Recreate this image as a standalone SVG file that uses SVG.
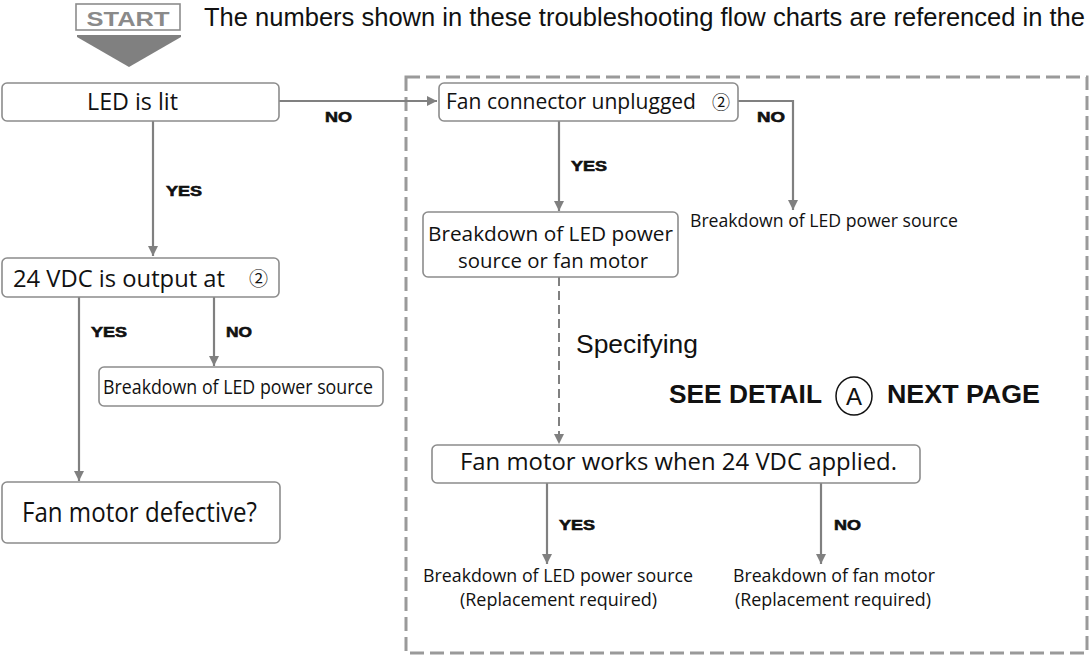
<svg xmlns="http://www.w3.org/2000/svg" width="1090" height="655" viewBox="0 0 1090 655">
<defs>
<marker id="ah" markerUnits="userSpaceOnUse" markerWidth="11" markerHeight="10" refX="10" refY="5" orient="auto">
<path d="M0,0 L10,5 L0,10 z" fill="#808080"/>
</marker>
<style>
.box{fill:#fff;stroke:#8c8c8c;stroke-width:1.6}
.con{fill:none;stroke:#808080;stroke-width:2.2}
.dash{fill:none;stroke:#808080;stroke-width:2;stroke-dasharray:9 5}
.t{font-family:"Open Sans","Noto Sans",sans-serif;fill:#111}
.h{font-family:"Liberation Sans",Arial,sans-serif;fill:#111}
.lbl{font-family:"Liberation Sans",Arial,sans-serif;font-weight:bold;font-size:15px;fill:#111;stroke:#111;stroke-width:0.6}
.c2{font-family:"Noto Sans CJK JP","DejaVu Sans",sans-serif;fill:#111}
</style>
</defs>
<rect width="1090" height="655" fill="#fff"/>

<g id="frame">
<rect x="406" y="77" width="681" height="576" fill="none" stroke="#9a9a9a" stroke-width="3" stroke-dasharray="14 6"/>
</g>

<g id="start">
<rect x="76" y="4" width="104" height="26" fill="#fff" stroke="#8c8c8c" stroke-width="1.6"/>
<text x="128" y="26" text-anchor="middle" font-family="Liberation Sans,Arial,sans-serif" font-weight="bold" font-size="20" fill="#8a8a8a" textLength="83" lengthAdjust="spacingAndGlyphs">START</text>
<polygon points="77,35 181,35 181,37 129,67 77,37" fill="#808080"/>
</g>

<g id="header">
<text class="h" x="204" y="26" font-size="25" textLength="881" lengthAdjust="spacingAndGlyphs">The numbers shown in these troubleshooting flow charts are referenced in the</text>
</g>

<g id="connectors">
<path class="con" d="M279,101 H437" marker-end="url(#ah)"/>
<path class="con" d="M153,121 V256" marker-end="url(#ah)"/>
<path class="con" d="M79,297 V481" marker-end="url(#ah)"/>
<path class="con" d="M214,297 V366" marker-end="url(#ah)"/>
<path class="con" d="M738,101 H793 V210" marker-end="url(#ah)"/>
<path class="con" d="M559,121 V211" marker-end="url(#ah)"/>
<path class="dash" d="M559,277 V444" marker-end="url(#ah)"/>
<path class="con" d="M547,483 V564" marker-end="url(#ah)"/>
<path class="con" d="M821,483 V564" marker-end="url(#ah)"/>
<text class="lbl" x="325" y="122" textLength="27" lengthAdjust="spacingAndGlyphs">NO</text>
<text class="lbl" x="166" y="196" textLength="36" lengthAdjust="spacingAndGlyphs">YES</text>
<text class="lbl" x="91" y="337" textLength="36" lengthAdjust="spacingAndGlyphs">YES</text>
<text class="lbl" x="226" y="337" textLength="26" lengthAdjust="spacingAndGlyphs">NO</text>
<text class="lbl" x="757" y="122" textLength="28" lengthAdjust="spacingAndGlyphs">NO</text>
<text class="lbl" x="571" y="171" textLength="36" lengthAdjust="spacingAndGlyphs">YES</text>
<text class="lbl" x="559" y="530" textLength="36" lengthAdjust="spacingAndGlyphs">YES</text>
<text class="lbl" x="834" y="530" textLength="27" lengthAdjust="spacingAndGlyphs">NO</text>
<text class="h" x="576" y="353" font-size="26" textLength="122" lengthAdjust="spacingAndGlyphs">Specifying</text>
</g>

<g id="led">
<rect class="box" x="2" y="83" width="277" height="38" rx="5"/>
<text class="t" x="132.5" y="110" font-size="24" text-anchor="middle" textLength="91" lengthAdjust="spacingAndGlyphs">LED is lit</text>
</g>

<g id="vdc">
<rect class="box" x="2" y="258" width="277" height="39" rx="5"/>
<text class="t" x="13" y="287" font-size="24"><tspan textLength="212" lengthAdjust="spacingAndGlyphs">24 VDC is output at</tspan><tspan class="c2" x="249" y="286" font-size="19">②</tspan></text>
</g>

<g id="left-breakdown">
<rect class="box" x="99" y="367" width="284" height="39" rx="5"/>
<text class="t" x="238" y="394" font-size="19.5" text-anchor="middle" textLength="270" lengthAdjust="spacingAndGlyphs">Breakdown of LED power source</text>
</g>

<g id="fan-defective">
<rect class="box" x="2" y="482" width="278" height="61" rx="5"/>
<text class="t" x="139.5" y="522" font-size="27" text-anchor="middle" textLength="235" lengthAdjust="spacingAndGlyphs">Fan motor defective?</text>
</g>

<g id="fan-connector">
<rect class="box" x="439" y="83" width="299" height="38" rx="5"/>
<text class="t" x="446" y="109" font-size="21.5"><tspan textLength="250" lengthAdjust="spacingAndGlyphs">Fan connector unplugged</tspan><tspan class="c2" x="712" font-size="18">②</tspan></text>
</g>

<g id="right-breakdown">
<text class="t" x="690" y="227" font-size="19" textLength="268" lengthAdjust="spacingAndGlyphs">Breakdown of LED power source</text>
</g>

<g id="breakdown-or">
<rect class="box" x="423" y="212" width="255" height="65" rx="5"/>
<text class="t" x="550.5" y="241" font-size="20.5" text-anchor="middle" textLength="245" lengthAdjust="spacingAndGlyphs">Breakdown of LED power</text>
<text class="t" x="553" y="268" font-size="20.5" text-anchor="middle" textLength="190" lengthAdjust="spacingAndGlyphs">source or fan motor</text>
</g>

<g id="see-detail">
<text class="h" x="669" y="403" font-size="26" font-weight="bold" textLength="153" lengthAdjust="spacingAndGlyphs">SEE DETAIL</text>
<ellipse cx="854" cy="396" rx="18" ry="19" fill="none" stroke="#111" stroke-width="1.5"/>
<text class="h" x="854" y="405" font-size="24" text-anchor="middle">A</text>
<text class="h" x="887" y="403" font-size="26" font-weight="bold" textLength="153" lengthAdjust="spacingAndGlyphs">NEXT PAGE</text>
</g>

<g id="fan-works">
<rect class="box" x="432" y="445" width="488" height="38" rx="5"/>
<text class="t" x="460" y="470" font-size="24" textLength="437" lengthAdjust="spacingAndGlyphs">Fan motor works when 24 VDC applied.</text>
</g>

<g id="result-led">
<text class="t" x="558" y="582" font-size="18" text-anchor="middle" textLength="270" lengthAdjust="spacingAndGlyphs">Breakdown of LED power source</text>
<text class="t" x="558.5" y="606" font-size="18" text-anchor="middle" textLength="197" lengthAdjust="spacingAndGlyphs">(Replacement required)</text>
</g>

<g id="result-fan">
<text class="t" x="834" y="582" font-size="18" text-anchor="middle" textLength="202" lengthAdjust="spacingAndGlyphs">Breakdown of fan motor</text>
<text class="t" x="833" y="606" font-size="18" text-anchor="middle" textLength="196" lengthAdjust="spacingAndGlyphs">(Replacement required)</text>
</g>
</svg>
